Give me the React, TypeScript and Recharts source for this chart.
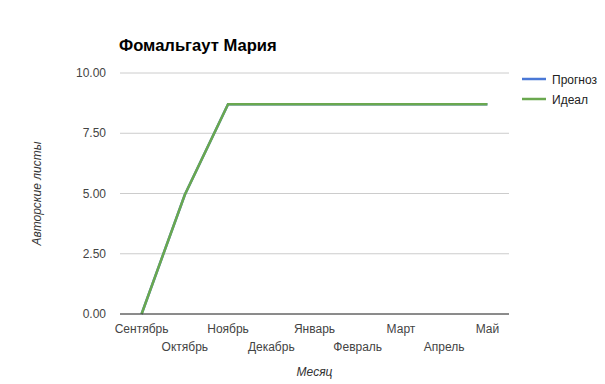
import { LineChart, Line, XAxis, YAxis, CartesianGrid } from "recharts";

const months = ["Сентябрь", "Октябрь", "Ноябрь", "Декабрь", "Январь", "Февраль", "Март", "Апрель", "Май"];
const forecast = [0, 4.95, 8.7, 8.7, 8.7, 8.7, 8.7, 8.7, 8.7];
const ideal = [0, 4.95, 8.7, 8.7, 8.7, 8.7, 8.7, 8.7, 8.7];
const yTicks = [0, 2.5, 5, 7.5, 10];

const data = months.map((m, i) => ({ month: m, forecast: forecast[i], ideal: ideal[i] }));

const FONT = "Arial, 'Liberation Sans', sans-serif";

const seriesInfo = [
  { name: "Прогноз", color: "#4a78d6" },
  { name: "Идеал", color: "#6aa84f" },
];

function MonthTick(props: any) {
  const { x, y, payload, index } = props;
  const row = index % 2 === 0 ? 0 : 17.5;
  return (
    <text x={x} y={y + 11 + row} textAnchor="middle" fill="#444" fontSize={12} fontFamily={FONT}>
      {payload.value}
    </text>
  );
}

function ValueTick(props: any) {
  const { y, payload } = props;
  return (
    <text x={106} y={y + 4} textAnchor="end" fill="#444" fontSize={12} fontFamily={FONT}>
      {Number(payload.value).toFixed(2)}
    </text>
  );
}

export default function App() {
  return (
    <div style={{ position: "absolute", left: 0, top: 0, width: 605, height: 384, background: "#fff", fontFamily: FONT }}>
      <div style={{ position: "absolute", left: 119, top: 36, fontSize: 16.6, fontWeight: "bold", color: "#000" }}>
        Фомальгаут Мария
      </div>
      <svg style={{ position: "absolute", left: 520, top: 70 }} width={85} height={45}>
        {seriesInfo.map((it, i) => (
          <g key={it.name}>
            <line x1={2} x2={26} y1={9 + i * 20} y2={9 + i * 20} stroke={it.color} strokeWidth={2.5} />
            <text x={32} y={13.5 + i * 20} fill="#222" fontSize={12} fontFamily={FONT}>
              {it.name}
            </text>
          </g>
        ))}
      </svg>
      <LineChart width={605} height={384} data={data} margin={{ top: 73, right: 96, bottom: 0, left: 0 }}>
        <CartesianGrid horizontal vertical={false} stroke="#ccc" />
        <XAxis
          dataKey="month"
          interval={0}
          padding={{ left: 21.6, right: 21.6 }}
          tickLine={false}
          axisLine={{ stroke: "#333" }}
          tick={<MonthTick />}
          height={70}
          label={{ value: "Месяц", position: "insideBottom", offset: 8, fill: "#333", fontSize: 12, fontStyle: "italic", fontFamily: FONT }}
        />
        <YAxis
          domain={[0, 10]}
          ticks={yTicks}
          width={120}
          axisLine={false}
          tickLine={false}
          tick={<ValueTick />}
          label={{ value: "Авторские листы", angle: -90, position: "center", dx: -23, fill: "#333", fontSize: 12, fontStyle: "italic", fontFamily: FONT }}
        />
        <Line dataKey="forecast" name="Прогноз" stroke="#4a78d6" strokeWidth={2.5} dot={false} isAnimationActive={false} />
        <Line dataKey="ideal" name="Идеал" stroke="#6aa84f" strokeWidth={2.5} dot={false} isAnimationActive={false} />
      </LineChart>
    </div>
  );
}
